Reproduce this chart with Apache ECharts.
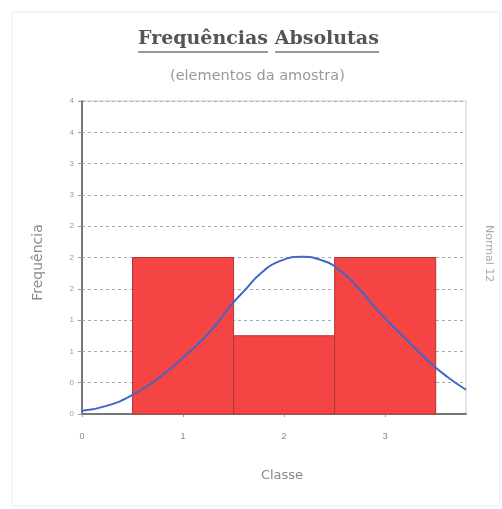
<!DOCTYPE html>
<html>
<head>
<meta charset="utf-8">
<script src="https://cdn.jsdelivr.net/npm/echarts@6/dist/echarts.min.js"></script>
<style>
  html, body { margin: 0; padding: 0; background: #fff; }
  #chart { width: 502px; height: 509px; }
</style>
</head>
<body>
<div id="chart"></div>
<script>
// classes and absolute frequencies
const classes = [1, 2, 3];
const frequencies = [2, 1, 2];

// fitted normal curve
const curveX = [0, 0.26, 0.52, 0.78, 1.05, 1.28, 1.46, 1.61, 1.77, 1.97, 2.18, 2.36, 2.53, 2.72, 2.95, 3.21, 3.45, 3.61, 3.8];
const curveY = [0.04, 0.11, 0.26, 0.48, 0.78, 1.07, 1.37, 1.58, 1.8, 1.96, 2.01, 1.97, 1.86, 1.63, 1.29, 0.95, 0.65, 0.48, 0.31];

// tick labels as printed (rounded)
const yTickLabels = ['0', '0', '1', '1', '2', '2', '2', '3', '3', '4', '4'];
const xTickLabels = ['0', '1', '2', '3'];

const chart = echarts.init(document.getElementById('chart'));

const option = {
  backgroundColor: '#fff',
  animation: false,
  title: [
    {
      text: 'Frequências Absolutas',
      left: 138,
      top: 30,
      padding: 0,
      textStyle: { fontFamily: 'DejaVu Serif', fontWeight: 'bold', fontSize: 19, color: '#555' },
    },
    {
      text: '(elementos da amostra)',
      left: 170,
      top: 69,
      padding: 0,
      textStyle: { fontFamily: 'DejaVu Sans', fontWeight: 'normal', fontSize: 14.5, color: '#999' },
    },
  ],
  graphic: [
    { type: 'rect', shape: { x: 12, y: 12, width: 488, height: 494 }, style: { fill: 'none', stroke: '#ececec' }, silent: true },
    // title underlines, one per word
    { type: 'line', shape: { x1: 138, y1: 52, x2: 268, y2: 52 }, style: { stroke: '#777', lineWidth: 1.5 } },
    { type: 'line', shape: { x1: 275, y1: 52, x2: 379, y2: 52 }, style: { stroke: '#777', lineWidth: 1.5 } },
    {
      type: 'text', x: 494, y: 225, rotation: -Math.PI / 2,
      style: { text: 'Normal 12', fill: '#aaa', fontSize: 11, fontFamily: 'DejaVu Sans' },
    },
  ],
  grid: { left: 82, right: 36, top: 101, bottom: 95, show: true, borderColor: '#ccc', borderWidth: 1 },
  xAxis: {
    type: 'value',
    min: 0,
    max: 3.8,
    interval: 1,
    name: 'Classe',
    nameLocation: 'middle',
    nameGap: 55,
    nameTextStyle: { color: '#888', fontSize: 13, fontFamily: 'DejaVu Sans', padding: [0, 0, 0, 16] },
    axisLine: { lineStyle: { color: '#777', width: 2 } },
    axisTick: { show: true, length: 3, lineStyle: { color: '#999' } },
    axisLabel: {
      color: '#888', fontSize: 9, margin: 18, showMaxLabel: false,
      formatter: (v) => (Number.isInteger(v) ? xTickLabels[v] : ''),
    },
    splitLine: { show: false },
  },
  yAxis: {
    type: 'value',
    min: 0,
    max: 4,
    interval: 0.4,
    name: 'Frequência',
    nameLocation: 'middle',
    nameGap: 37,
    nameTextStyle: { color: '#8a8a8a', fontSize: 14, fontFamily: 'DejaVu Sans', padding: [0, 10, 0, 0] },
    axisLine: { show: true, lineStyle: { color: '#777', width: 2 } },
    axisTick: { show: true, inside: false, length: 4, lineStyle: { color: '#999' } },
    axisLabel: {
      color: '#999', fontSize: 8, margin: 8,
      formatter: (v) => yTickLabels[Math.round(v / 0.4)],
    },
    splitLine: { show: true, lineStyle: { color: '#aaa', type: [3, 3], width: 1 } },
  },
  series: [
    {
      type: 'custom',
      data: classes.map((c, i) => [c, frequencies[i]]),
      renderItem: (params, api) => {
        const x = api.value(0);
        const y = api.value(1);
        const p0 = api.coord([x - 0.5, y]);
        const p1 = api.coord([x + 0.5, 0]);
        return {
          type: 'rect',
          shape: { x: p0[0], y: p0[1], width: p1[0] - p0[0], height: p1[1] - p0[1] },
          style: { fill: '#f44444', stroke: '#b03636', lineWidth: 1 },
        };
      },
      z: 2,
    },
    {
      type: 'line',
      data: curveX.map((x, i) => [x, curveY[i]]),
      smooth: true,
      symbol: 'none',
      lineStyle: { color: '#4466c8', width: 2 },
      z: 3,
    },
  ],
};

chart.setOption(option);
</script>
</body>
</html>
